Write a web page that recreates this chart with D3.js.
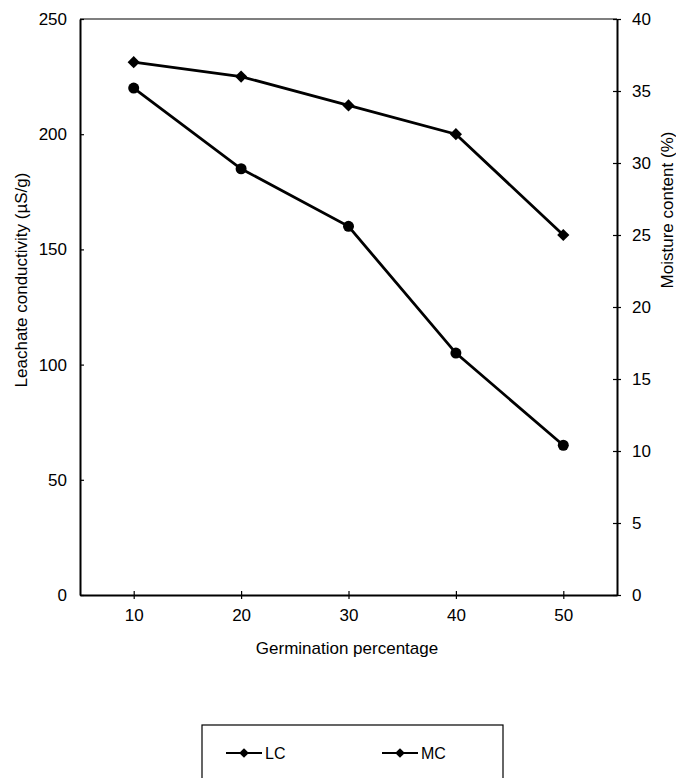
<!DOCTYPE html>
<html>
<head>
<meta charset="utf-8">
<script src="https://cdn.jsdelivr.net/npm/d3@7"></script>
<style>
  body { margin: 0; background: #fff; }
  text { font-family: "Liberation Sans", Arial, sans-serif; fill: #000; }
</style>
</head>
<body>
<div class="chart"></div>
<script>
//Chart data.
var germination = [10, 20, 30, 40, 50];
var lcValues = [220, 185, 160, 105, 65];
var mcValues = [37, 36, 34, 32, 25];
var leftTicks = [0, 50, 100, 150, 200, 250];
var rightTicks = [0, 5, 10, 15, 20, 25, 30, 35, 40];
var seriesNames = ["LC", "MC"];

//Define the SVG area dimensions.
var svgWidth = 676;
var svgHeight = 778;

//Plot area edges.
var margin = { top: 19, right: 59, bottom: 183, left: 80 };
var chartWidth = svgWidth - margin.left - margin.right;
var chartHeight = svgHeight - margin.top - margin.bottom;

var svg = d3.select(".chart")
  .append("svg")
  .attr("width", svgWidth)
  .attr("height", svgHeight);

var chart = svg.append("g")
  .attr("transform", "translate(" + margin.left + "," + margin.top + ")");

//Scales.
var xScale = d3.scaleLinear().domain([5, 55]).range([0, chartWidth]);
var yLeft = d3.scaleLinear().domain([0, 250]).range([chartHeight, 0]);
var yRight = d3.scaleLinear().domain([0, 40]).range([chartHeight, 0]);

//Top border line.
chart.append("line")
  .attr("x1", 0).attr("x2", chartWidth)
  .attr("y1", 0).attr("y2", 0)
  .attr("stroke", "#000").attr("stroke-width", 1.2);

//Axes with crossing ticks.
function styleAxis(g) {
  g.select(".domain").attr("stroke", "#000").attr("stroke-width", 2);
  g.selectAll(".tick line").attr("stroke", "#000").attr("stroke-width", 1.2);
  g.selectAll(".tick text").style("font-size", "17px").attr("fill", "#000");
}

var leftAxis = chart.append("g")
  .call(d3.axisLeft(yLeft).tickValues(leftTicks).tickSizeInner(4).tickSizeOuter(0).tickPadding(9));
leftAxis.selectAll(".tick line").attr("x2", 4);
styleAxis(leftAxis);

var rightAxis = chart.append("g")
  .attr("transform", "translate(" + chartWidth + ",0)")
  .call(d3.axisRight(yRight).tickValues(rightTicks).tickSizeInner(4).tickSizeOuter(0).tickPadding(11));
rightAxis.selectAll(".tick line").attr("x2", -4).attr("x1", 4);
styleAxis(rightAxis);

var bottomAxis = chart.append("g")
  .attr("transform", "translate(0," + chartHeight + ")")
  .call(d3.axisBottom(xScale).tickValues(germination).tickSizeInner(4).tickSizeOuter(0).tickPadding(10));
bottomAxis.selectAll(".tick line").attr("y1", -4);
styleAxis(bottomAxis);

//Axis titles.
svg.append("text")
  .attr("transform", "translate(27,280) rotate(-90)")
  .attr("text-anchor", "middle")
  .style("font-size", "17px")
  .text("Leachate conductivity (µS/g)");

svg.append("text")
  .attr("transform", "translate(673,210) rotate(-90)")
  .attr("text-anchor", "middle")
  .style("font-size", "17px")
  .text("Moisture content (%)");

svg.append("text")
  .attr("x", 347).attr("y", 654)
  .attr("text-anchor", "middle")
  .style("font-size", "17px")
  .text("Germination percentage");

//Lines.
var lcLine = d3.line()
  .x(function(d, i) { return xScale(germination[i]); })
  .y(function(d) { return yLeft(d); });

var mcLine = d3.line()
  .x(function(d, i) { return xScale(germination[i]); })
  .y(function(d) { return yRight(d); });

chart.append("path")
  .datum(lcValues)
  .attr("d", lcLine)
  .attr("fill", "none").attr("stroke", "#000").attr("stroke-width", 2.8);

chart.append("path")
  .datum(mcValues)
  .attr("d", mcLine)
  .attr("fill", "none").attr("stroke", "#000").attr("stroke-width", 2.8);

//Markers: circles for LC, diamonds for MC.
chart.selectAll(".lc-dot")
  .data(lcValues)
  .enter().append("circle")
  .attr("cx", function(d, i) { return xScale(germination[i]); })
  .attr("cy", function(d) { return yLeft(d); })
  .attr("r", 5.5)
  .attr("fill", "#000");

var diamond = d3.symbol().type(d3.symbolDiamond2).size(95);

chart.selectAll(".mc-dot")
  .data(mcValues)
  .enter().append("path")
  .attr("d", diamond)
  .attr("transform", function(d, i) {
    return "translate(" + xScale(germination[i]) + "," + yRight(d) + ")";
  })
  .attr("fill", "#000");

//Legend box below the chart.
var legend = svg.append("g");

legend.append("rect")
  .attr("x", 202).attr("y", 725)
  .attr("width", 301).attr("height", 70)
  .attr("fill", "none").attr("stroke", "#000").attr("stroke-width", 1.2);

var legendX = [226, 382];

var items = legend.selectAll(".item")
  .data(seriesNames)
  .enter().append("g")
  .attr("transform", function(d, i) { return "translate(" + legendX[i] + ",753)"; });

items.append("line")
  .attr("x1", 0).attr("x2", 36)
  .attr("y1", 0).attr("y2", 0)
  .attr("stroke", "#000").attr("stroke-width", 2);

items.append("path")
  .attr("d", d3.symbol().type(d3.symbolDiamond2).size(60))
  .attr("transform", "translate(18,0)")
  .attr("fill", "#000");

items.append("text")
  .attr("x", 39).attr("y", 6)
  .style("font-size", "16px")
  .text(function(d) { return d; });
</script>
</body>
</html>
